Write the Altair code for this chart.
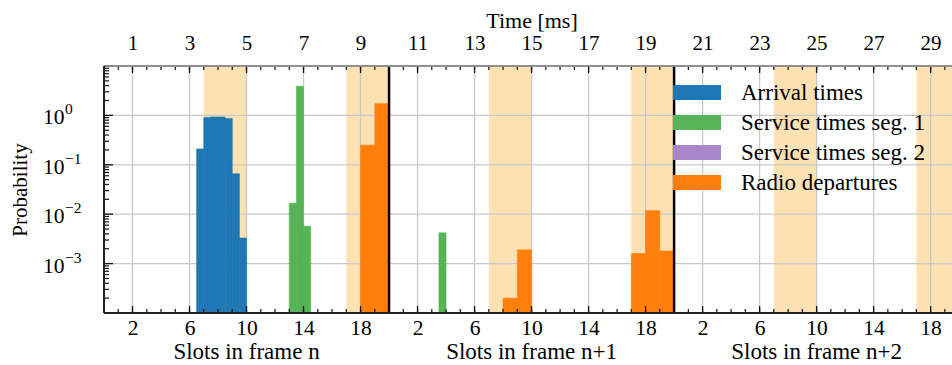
import altair as alt
import pandas as pd

# ---------------- data ----------------
series_names = ["Arrival times", "Service times seg. 1", "Service times seg. 2", "Radio departures"]
series_colors = ["#1f77b4", "#56b356", "#a985ca", "#ff7f0e"]

arrival_start = [6.5, 7.0, 7.5, 8.0, 8.5, 9.0, 9.5]
arrival_prob = [0.21, 0.91, 0.93, 0.93, 0.87, 0.066, 0.0033]
arrival_width = 0.5

service1_start = [13.0, 13.5, 14.0, 23.5]
service1_prob = [0.0167, 3.9, 0.0057, 0.0042]
service1_width = 0.5

service2_start = []
service2_prob = []
service2_width = 0.5

radio_start = [18, 19, 28, 29, 37, 38, 39]
radio_prob = [0.25, 1.73, 0.0002, 0.0019, 0.0016, 0.0118, 0.0018]
radio_width = 1.0

shade_start = [7, 17, 27, 37, 47, 57]
shade_width = 3

frame_bounds = [20, 40]
frame_centers = [10, 30, 50]
frame_titles = ["Slots in frame n", "Slots in frame n+1", "Slots in frame n+2"]

slot_major = [2, 6, 10, 14, 18, 22, 26, 30, 34, 38, 42, 46, 50, 54, 58]
slot_minor = list(range(1, 60))
y_grid = [1e-3, 1e-2, 1e-1, 1.0]
y_label_base = ["10", "10", "10", "10"]
y_label_exp = ["−3", "−2", "−1", "0"]
y_major = [1e-4, 1e-3, 1e-2, 1e-1, 1.0, 10.0]
y_minor = [m * d for d in [1e-4, 1e-3, 1e-2, 1e-1, 1.0] for m in range(2, 10)]

# ---------------- tables ----------------
rows = []
for name, starts, probs, w in [
    (series_names[0], arrival_start, arrival_prob, arrival_width),
    (series_names[1], service1_start, service1_prob, service1_width),
    (series_names[2], service2_start, service2_prob, service2_width),
    (series_names[3], radio_start, radio_prob, radio_width),
]:
    for s, p in zip(starts, probs):
        rows.append({"series": name, "start": s, "end": s + w, "prob": p})
bars_df = pd.DataFrame(rows)
shade_df = pd.DataFrame({"start": shade_start, "end": [s + shade_width for s in shade_start]})
bounds_df = pd.DataFrame({"slot": frame_bounds})
titles_df = pd.DataFrame({"slot": frame_centers, "title": frame_titles})
xmaj_df = pd.DataFrame({"slot": slot_major})
xmin_df = pd.DataFrame({"slot": slot_minor})
ygrid_df = pd.DataFrame({"val": y_grid, "base": y_label_base, "exp": y_label_exp})
ymaj_df = pd.DataFrame({"val": y_major})
ymin_df = pd.DataFrame({"val": y_minor})

W, H = 848, 247
FONT = "Liberation Serif"
xscale = alt.Scale(domain=[0, 59.5], nice=False, zero=False)
yscale = alt.Scale(type="log", domain=[1e-4, 10], nice=False)
TICK = "#111111"
color_scale = alt.Scale(domain=series_names, range=series_colors)

shade = alt.Chart(shade_df).mark_rect(color="#ffe2b4", clip=True).encode(
    x=alt.X("start:Q", scale=xscale, axis=None),
    x2="end:Q",
    y=alt.value(0),
    y2=alt.value(H),
)

vgrid = alt.Chart(xmaj_df).mark_rule(color="#c8c8c8", strokeWidth=1.3).encode(
    x=alt.X("slot:Q", scale=xscale, axis=None), y=alt.value(0), y2=alt.value(H)
)
hgrid = alt.Chart(ygrid_df).mark_rule(color="#c8c8c8", strokeWidth=1.3).encode(
    y=alt.Y("val:Q", scale=yscale, axis=None), x=alt.value(0), x2=alt.value(W)
)

bars = alt.Chart(bars_df).mark_rect(clip=True, strokeWidth=0.6).encode(
    x=alt.X(
        "start:Q",
        scale=xscale,
        axis=alt.Axis(
            orient="bottom", values=slot_major, labelExpr="datum.value % 20",
            grid=False, ticks=False, domain=False, title=None,
            labelFont=FONT, labelFontSize=21.5, labelColor="black", labelPadding=4,
        ),
    ),
    x2="end:Q",
    y=alt.Y(
        "prob:Q",
        scale=yscale,
        axis=alt.Axis(
            orient="left", values=y_grid, labels=False, grid=False, ticks=False,
            domain=False,
            title="Probability", titleFont=FONT, titleFontSize=21, titleFontWeight="normal",
            titleColor="black", titleX=-84, titleY=H / 2, titleAngle=-90,
            titleAlign="center", titleBaseline="middle",
        ),
    ),
    y2=alt.datum(1e-4),
    color=alt.Color(
        "series:N",
        scale=color_scale,
        legend=alt.Legend(
            orient="none", legendX=569, legendY=11.5, title=None,
            symbolType="M-1,-0.3125H1V0.3125H-1Z", symbolSize=2304,
            symbolStrokeWidth=0, symbolOpacity=1,
            labelFont=FONT, labelFontSize=23, labelColor="black",
            labelOffset=20, labelLimit=400, rowPadding=0, clipHeight=30,
        ),
    ),
    stroke=alt.Color("series:N", scale=color_scale, legend=None),
)

# y tick labels as 10 with superscript exponent
ylab_base = alt.Chart(ygrid_df).mark_text(
    font=FONT, fontSize=21.5, color="black", align="left", baseline="middle", dy=3
).encode(
    y=alt.Y("val:Q", scale=yscale, axis=None), x=alt.value(-61), text="base:N"
)
ylab_exp = alt.Chart(ygrid_df).mark_text(
    font=FONT, fontSize=15.5, color="black", align="left", baseline="middle", dy=-6
).encode(
    y=alt.Y("val:Q", scale=yscale, axis=None), x=alt.value(-39), text="exp:N"
)

bounds = alt.Chart(bounds_df).mark_rule(color="black", strokeWidth=2.5).encode(
    x=alt.X("slot:Q", scale=xscale, axis=None), y=alt.value(0), y2=alt.value(H)
)

# ticks (drawn inward)
top_minor = alt.Chart(xmin_df).mark_rule(color=TICK, strokeWidth=1.2).encode(
    x=alt.X(
        "slot:Q",
        scale=xscale,
        axis=alt.Axis(
            orient="top", values=slot_major, labelExpr="datum.value / 2",
            grid=False, ticks=False, domain=False,
            title="Time [ms]", titleFont=FONT, titleFontSize=22, titleFontWeight="normal",
            titleColor="black", titleX=427.5, titleY=-46, titleAlign="center",
            titleBaseline="middle",
            labelFont=FONT, labelFontSize=21, labelColor="black", labelPadding=13,
        ),
    ),
    y=alt.value(0), y2=alt.value(4),
)
top_major = alt.Chart(xmaj_df).mark_rule(color=TICK, strokeWidth=1.3).encode(
    x=alt.X("slot:Q", scale=xscale, axis=None), y=alt.value(0), y2=alt.value(7)
)
bot_minor = alt.Chart(xmin_df).mark_rule(color=TICK, strokeWidth=1.2).encode(
    x=alt.X("slot:Q", scale=xscale, axis=None), y=alt.value(H), y2=alt.value(H - 4)
)
bot_major = alt.Chart(xmaj_df).mark_rule(color=TICK, strokeWidth=1.3).encode(
    x=alt.X("slot:Q", scale=xscale, axis=None), y=alt.value(H), y2=alt.value(H - 7)
)
left_minor = alt.Chart(ymin_df).mark_rule(color=TICK, strokeWidth=1.2).encode(
    y=alt.Y("val:Q", scale=yscale, axis=None), x=alt.value(0), x2=alt.value(5)
)
left_major = alt.Chart(ymaj_df).mark_rule(color=TICK, strokeWidth=1.3).encode(
    y=alt.Y("val:Q", scale=yscale, axis=None), x=alt.value(0), x2=alt.value(9)
)

# spines
spine_top = alt.Chart(bounds_df).mark_rule(color="#8a8a8a", strokeWidth=1.5).encode(
    x=alt.value(0), x2=alt.value(W), y=alt.value(0)
)
spine_left = alt.Chart(bounds_df).mark_rule(color="#222222", strokeWidth=1.8).encode(
    x=alt.value(0), y=alt.value(0), y2=alt.value(H)
)
spine_bottom = alt.Chart(bounds_df).mark_rule(color="#222222", strokeWidth=1.8).encode(
    x=alt.value(0), x2=alt.value(W), y=alt.value(H)
)

titles = alt.Chart(titles_df).mark_text(
    font=FONT, fontSize=23, color="black", baseline="middle", align="center"
).encode(
    x=alt.X("slot:Q", scale=xscale, axis=None), y=alt.value(H + 39), text="title:N"
)

chart = (
    alt.layer(
        shade, vgrid, hgrid, bars, bounds,
        top_minor, top_major, bot_minor, bot_major, left_minor, left_major,
        spine_top, spine_left, spine_bottom, titles, ylab_base, ylab_exp,
    )
    .resolve_axis(x="independent", y="independent")
    .properties(
        width=W, height=H,
        autosize=alt.AutoSizeParams(type="none"),
        padding={"left": 104, "top": 66, "right": 0, "bottom": 52},
        background="white",
    )
    .configure_view(stroke=None)
)

chart.save("out.html", embed_options={"renderer": "svg", "actions": False})
